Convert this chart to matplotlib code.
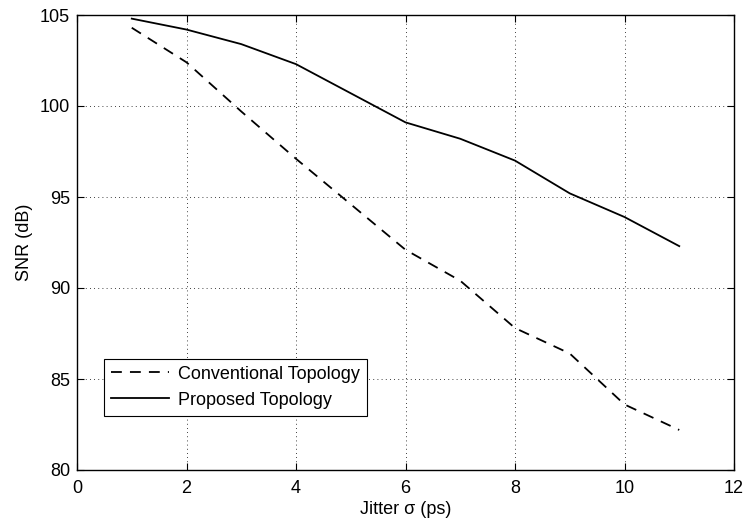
import matplotlib
matplotlib.use("Agg")
import matplotlib.pyplot as plt

jitter = [1, 2, 3, 4, 5, 6, 7, 8, 9, 10, 11]
snr_conventional = [104.3, 102.4, 99.7, 97.1, 94.6, 92.1, 90.4, 87.8, 86.4, 83.6, 82.2]
snr_proposed = [104.8, 104.2, 103.4, 102.3, 100.7, 99.1, 98.2, 97.0, 95.2, 93.9, 92.3]

plt.rcParams["font.family"] = ["Liberation Sans", "DejaVu Sans"]

fig = plt.figure(figsize=(7.44, 5.18), dpi=100)
ax = fig.add_axes([77 / 744, 1 - 470 / 518, (734 - 77) / 744, (470 - 15) / 518])

ax.plot(jitter, snr_conventional, color="black", lw=1.3, linestyle=(0, (6, 4.5)),
        label="Conventional Topology")
ax.plot(jitter, snr_proposed, color="black", lw=1.3, label="Proposed Topology")

ax.set_xlim(0, 12)
ax.set_ylim(80, 105)
ax.set_xticks(range(0, 13, 2))
ax.set_yticks(range(80, 106, 5))
ax.tick_params(direction="in", top=True, right=True, labelsize=13, length=5)
ax.tick_params(axis="x", pad=7)
ax.tick_params(axis="y", pad=5)
ax.grid(True, color="black", linestyle=(0, (1, 4)), lw=0.6)
for s in ax.spines.values():
    s.set_linewidth(1.0)

ax.set_xlabel("Jitter σ (ps)", fontsize=13, labelpad=3)
ax.set_ylabel("SNR (dB)", fontsize=13, labelpad=5)

leg = ax.legend(loc="lower left", bbox_to_anchor=((104 - 77) / 657, (470 - 416) / 455),
                fontsize=13, fancybox=False, framealpha=1, edgecolor="black",
                handlelength=3.2, handletextpad=0.5, borderpad=0.4, labelspacing=0.5,
                borderaxespad=0)
leg.get_frame().set_linewidth(0.8)

fig.savefig("out.png", dpi=100)
